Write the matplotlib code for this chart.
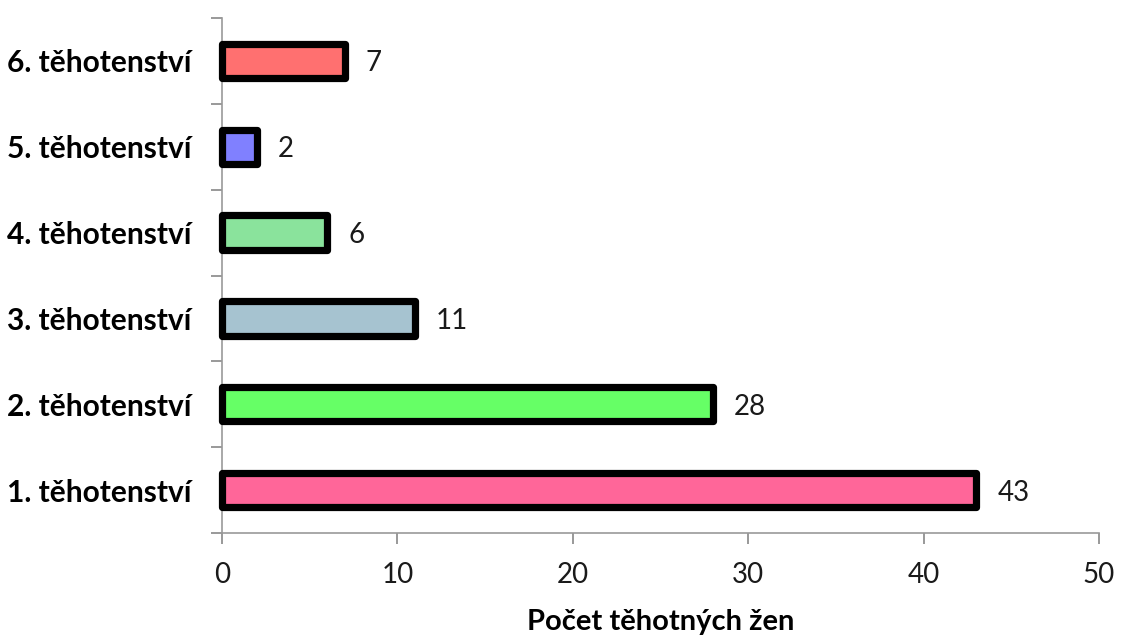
import matplotlib.pyplot as plt
import numpy as np

plt.rcParams['font.family'] = ['Lato', 'DejaVu Sans']

categories = ['1. těhotenství', '2. těhotenství', '3. těhotenství',
              '4. těhotenství', '5. těhotenství', '6. těhotenství']
counts = [43, 28, 11, 6, 2, 7]
colors = ['#FF6699', '#66FF66', '#A6C3D0', '#8AE39C', '#8080FF', '#FF7070']
xticks = [0, 10, 20, 30, 40, 50]

fig = plt.figure(figsize=(11.22, 6.37), dpi=100)
ax = fig.add_axes([222 / 1122, 1 - 533 / 637, (1099 - 222) / 1122, (533 - 18) / 637])

y = np.arange(len(categories))
bars = ax.barh(y, counts, height=0.4, color=colors, edgecolor='black',
               linewidth=5.2, zorder=3)
for b in bars:
    b.set_joinstyle('round')
    b.set_clip_on(False)

for yi, v in zip(y, counts):
    ax.text(v + 1.2, yi, str(v), va='center_baseline', ha='left',
            fontsize=20, color='#1a1a1a')

ax.set_xlim(0, 50)
ax.set_ylim(-0.5, len(categories) - 0.5)
ax.set_xticks(xticks)
ax.set_xticklabels([str(t) for t in xticks], fontsize=20, color='#1a1a1a')

# category labels sit between the boundary ticks
ax.set_yticks(np.arange(-0.5, len(categories), 1.0))
ax.set_yticklabels([])
ax.set_yticks(y, minor=True)
ax.set_yticklabels(categories, minor=True, fontsize=21.5, fontweight='bold')
ax.tick_params(axis='y', which='minor', length=0, pad=22)
ax.tick_params(axis='y', which='major', length=8, color='#888888', width=1.2)
ax.tick_params(axis='x', length=8, color='#888888', width=1.2, pad=13)

for s in ['top', 'right']:
    ax.spines[s].set_visible(False)
for s in ['left', 'bottom']:
    ax.spines[s].set_color('#999999')
    ax.spines[s].set_linewidth(1.2)

ax.set_xlabel('Počet těhotných žen', fontsize=21, fontweight='bold', labelpad=15)

fig.savefig('out.png', dpi=100)
